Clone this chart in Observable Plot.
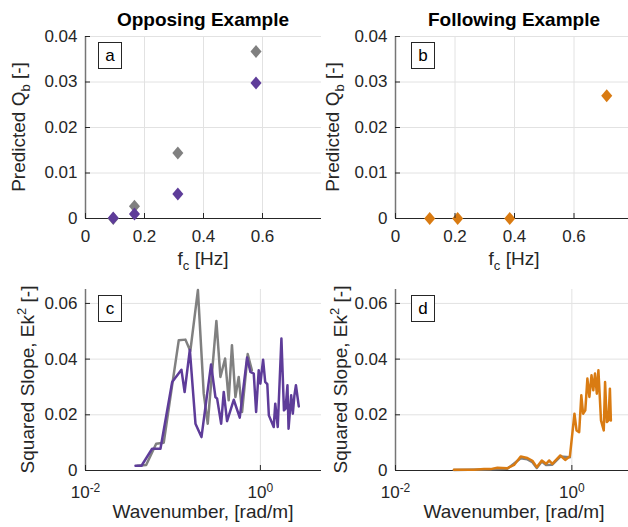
<!DOCTYPE html>
<html><head><meta charset="utf-8">
<script src="https://cdn.jsdelivr.net/npm/d3@7"></script>
<script src="https://cdn.jsdelivr.net/npm/@observablehq/plot@0.6"></script>
<style>
body{margin:0;background:#fff;}
#wrap{position:relative;width:628px;height:527px;overflow:hidden;background:#fff;font-family:"Liberation Sans",Arial,Helvetica,sans-serif;}
#wrap svg{position:absolute;overflow:visible;}
</style></head><body><div id="wrap"></div>
<script>
// ---------- data ----------
const titles = ["Opposing Example", "Following Example"];
const panelLetters = ["a", "b", "c", "d"];

// panel a (opposing): cutoff frequency vs predicted Qb
const fcOpp = [0.094, 0.166, 0.313, 0.578];
const qbOppGray = [0.0000, 0.0027, 0.0144, 0.0367];
const qbOppPurple = [0.0001, 0.0010, 0.0054, 0.0298];

// panel b (following)
const fcFol = [0.115, 0.209, 0.384, 0.710];
const qbFol = [0.0000, 0.0000, 0.0000, 0.0270];

// panel c (opposing): wavenumber vs squared slope
const kGrayC = [0.039, 0.0494, 0.0643, 0.0785, 0.1166, 0.139, 0.158, 0.193, 0.225, 0.25, 0.314, 0.349, 0.395, 0.434, 0.473, 0.518, 0.565, 0.617, 0.716, 0.8];
const ekGrayC = [0.0017, 0.002, 0.0096, 0.0100, 0.0468, 0.047, 0.0429, 0.0648, 0.0276, 0.0168, 0.0537, 0.0336, 0.0402, 0.0252, 0.045, 0.0264, 0.0336, 0.021, 0.0418, 0.036];
const kPurpleC = [0.0373, 0.0437, 0.0578, 0.072, 0.098, 0.125, 0.136, 0.156, 0.181, 0.212, 0.273, 0.306, 0.32, 0.356, 0.381, 0.416, 0.496, 0.581, 0.705, 0.769, 0.84, 0.894, 0.957, 1.0, 1.074, 1.135, 1.2, 1.25, 1.42, 1.48, 1.58, 1.74, 1.86, 1.94, 2.04, 2.1, 2.25, 2.35, 2.45, 2.55, 2.75];
const ekPurpleC = [0.0017, 0.0017, 0.0078, 0.0078, 0.0318, 0.0362, 0.0282, 0.0434, 0.0168, 0.012, 0.0381, 0.0264, 0.0258, 0.0168, 0.0282, 0.0177, 0.0254, 0.019, 0.0406, 0.0354, 0.0348, 0.021, 0.036, 0.0312, 0.0398, 0.0318, 0.031, 0.0198, 0.0156, 0.024, 0.0156, 0.0474, 0.0216, 0.0222, 0.0306, 0.015, 0.027, 0.0204, 0.027, 0.0306, 0.023];

// panel d (following)
const kGrayD = [0.046, 0.101, 0.185, 0.263, 0.313, 0.357, 0.4, 0.456, 0.51, 0.6, 0.74, 0.95];
const ekGrayD = [0.0002, 0.0004, 0.0006, 0.0044, 0.0040, 0.0030, 0.0009, 0.0032, 0.0020, 0.0021, 0.0050, 0.0048];
const kOrangeD = [0.046, 0.0776, 0.101, 0.12, 0.143, 0.185, 0.221, 0.263, 0.313, 0.357, 0.4, 0.456, 0.51, 0.554, 0.6, 0.74, 0.84, 0.95, 1.07, 1.13, 1.21, 1.28, 1.34, 1.42, 1.5, 1.58, 1.67, 1.75, 1.83, 1.92, 2.0, 2.14, 2.3, 2.38, 2.49, 2.6, 2.7, 2.77];
const ekOrangeD = [0.0003, 0.0003, 0.0005, 0.0005, 0.001, 0.0008, 0.002, 0.005, 0.0045, 0.0035, 0.0012, 0.0036, 0.0024, 0.0036, 0.0024, 0.0054, 0.0038, 0.0051, 0.0204, 0.0144, 0.0138, 0.027, 0.0204, 0.0216, 0.033, 0.0264, 0.0342, 0.0288, 0.0348, 0.0276, 0.036, 0.018, 0.0144, 0.0318, 0.0174, 0.018, 0.0294, 0.018];

// ticks
const fcTicks = [0, 0.2, 0.4, 0.6];
const qbTicks = [0, 0.01, 0.02, 0.03, 0.04];
const kTicks = [0.01, 1];
const ekTicks = [0, 0.02, 0.04, 0.06];

// ---------- style ----------
const FONT = '"Liberation Sans", Arial, Helvetica, sans-serif';
const GRAY = "#808080", PURPLE = "#5e3c99", ORANGE = "#d97b12";
const GRID = "#e2e2e2", AXY = "#767676", AXX = "#262626", TXT = "#262626";

const diamond = {draw(ctx, size) {
  const r = Math.sqrt(size / Math.PI), w = r * 0.85;
  ctx.moveTo(0, -r); ctx.lineTo(w, 0); ctx.lineTo(0, r); ctx.lineTo(-w, 0); ctx.closePath();
}};

const zip = (xs, ys) => xs.map((x, i) => ({x, y: ys[i]}));
const wrap = document.getElementById("wrap");
const numFmt = d => d === 0 ? "0" : String(d);

function panel(o) {
  const svg = Plot.plot({
    width: o.w, height: o.h,
    marginLeft: o.ml, marginRight: o.mr, marginTop: o.mt, marginBottom: o.mb,
    style: {background: "transparent", fontFamily: FONT, fontSize: "17px", color: TXT, overflow: "visible"},
    x: o.x, y: o.y,
    marks: [
      Plot.gridX(o.xticks, {stroke: GRID, strokeOpacity: 1}),
      Plot.gridY(o.yticks, {stroke: GRID, strokeOpacity: 1}),
      Plot.ruleY([0], {stroke: AXX, strokeWidth: 1}),
      Plot.ruleX([o.x.domain[0]], {stroke: AXY, strokeWidth: 1.5}),
      ...o.marks,
      Plot.axisX(o.xticks, {tickSize: -5, tickPadding: o.xpad, tickFormat: o.xfmt || numFmt, label: null, fill: TXT}),
      Plot.axisY(o.yticks, {tickSize: -5, tickPadding: 13, tickFormat: numFmt, label: null, fill: TXT})
    ]
  });
  svg.style.left = o.left + "px";
  svg.style.top = o.top + "px";
  wrap.appendChild(svg);
  const s = d3.select(svg);
  const cx = o.ml + (o.w - o.ml - o.mr) / 2;
  const cy = o.mt + (o.h - o.mt - o.mb) / 2;
  // superscript tick labels
  s.selectAll('g[aria-label="x-axis tick label"] text').each(function() {
    const t = this.textContent;
    if (t.includes("^")) {
      const [b, e] = t.split("^");
      const el = d3.select(this); el.text(null);
      el.append("tspan").text(b);
      el.append("tspan").attr("dy", "-0.5em").attr("font-size", "12px").text(e);
    }
  });
  // title
  if (o.title) s.append("text").attr("x", cx).attr("y", o.titleY).attr("text-anchor", "middle")
    .attr("font-size", 19).attr("font-weight", "bold").attr("fill", "#000").attr("font-family", FONT).text(o.title);
  // x label
  const xl = s.append("text").attr("x", cx).attr("y", o.xlabY).attr("text-anchor", "middle")
    .attr("font-size", 19).attr("fill", TXT).attr("font-family", FONT);
  o.xlab.forEach(([t, dy, fs]) => { const ts = xl.append("tspan").text(t); if (dy) ts.attr("dy", dy); if (fs) ts.attr("font-size", fs); });
  // y label
  const yl = s.append("text").attr("transform", `translate(${o.ylabX},${cy}) rotate(-90)`).attr("text-anchor", "middle")
    .attr("font-size", 19).attr("fill", TXT).attr("font-family", FONT);
  o.ylab.forEach(([t, dy, fs]) => { const ts = yl.append("tspan").text(t); if (dy) ts.attr("dy", dy); if (fs) ts.attr("font-size", fs); });
  // panel letter box
  const bx = o.ml + o.boxDx, by = o.mt + 6;
  s.append("rect").attr("x", bx + 0.5).attr("y", by + 0.5).attr("width", 23).attr("height", 26)
    .attr("fill", "#fff").attr("stroke", "#262626").attr("stroke-width", 1);
  s.append("text").attr("x", bx + 12).attr("y", by + 19).attr("text-anchor", "middle")
    .attr("font-size", 17).attr("fill", "#000").attr("font-family", FONT).text(o.letter);
}

const qbLab = [["Predicted Q"], ["b", 5, 13], [" [-]", -5]];
const fcLab = [["f"], ["c", 5, 13], [" [Hz]", -5]];
const ekLab = [["Squared Slope, Ek"], ["2", -8, 13], [" [-]", 8]];
const kLab = [["Wavenumber, [rad/m]"]];
const logFmt = d => d === 1 ? "10^0" : "10^" + Math.round(Math.log10(d));

const topCfg = {w: 330, h: 270, mt: 36, mb: 52, x: {type: "linear", domain: [0, 0.8]}, y: {domain: [0, 0.04]},
  xticks: fcTicks, yticks: qbTicks, xpad: 16, titleY: 26, xlabY: 265, xlab: fcLab, ylab: qbLab};
const botCfg = {w: 330, h: 257, mt: 19, mb: 57, x: {type: "log", domain: [0.01, 5]}, y: {domain: [0, 0.065]},
  xticks: kTicks, yticks: ekTicks, xpad: 20, xfmt: logFmt, xlabY: 248, xlab: kLab, ylab: ekLab};

const lineOpts = {x: "x", y: "y", strokeWidth: 2.5, strokeLinejoin: "round", strokeLinecap: "round"};

panel({...topCfg, left: 0, top: 0, ml: 85, mr: 9, title: titles[0], ylabX: 25, boxDx: 13, letter: panelLetters[0],
  marks: [
    Plot.dot(zip(fcOpp, qbOppGray), {x: "x", y: "y", symbol: diamond, r: 6.5, fill: GRAY}),
    Plot.dot(zip(fcOpp, qbOppPurple), {x: "x", y: "y", symbol: diamond, r: 6.5, fill: PURPLE})
  ]});
panel({...topCfg, left: 314, top: 0, ml: 81, mr: 11, title: titles[1], ylabX: 25, boxDx: 16, letter: panelLetters[1],
  marks: [
    Plot.dot(zip(fcFol, qbFol), {x: "x", y: "y", symbol: diamond, r: 6.5, fill: ORANGE})
  ]});
panel({...botCfg, left: 0, top: 270, ml: 85, mr: 9, ylabX: 34, boxDx: 13, letter: panelLetters[2],
  marks: [
    Plot.line(zip(kGrayC, ekGrayC), {...lineOpts, stroke: GRAY}),
    Plot.line(zip(kPurpleC, ekPurpleC), {...lineOpts, stroke: PURPLE})
  ]});
panel({...botCfg, left: 314, top: 270, ml: 81, mr: 11, ylabX: 33, boxDx: 16, letter: panelLetters[3],
  marks: [
    Plot.line(zip(kGrayD, ekGrayD), {...lineOpts, stroke: GRAY}),
    Plot.line(zip(kOrangeD, ekOrangeD), {...lineOpts, stroke: ORANGE})
  ]});
</script></body></html>
